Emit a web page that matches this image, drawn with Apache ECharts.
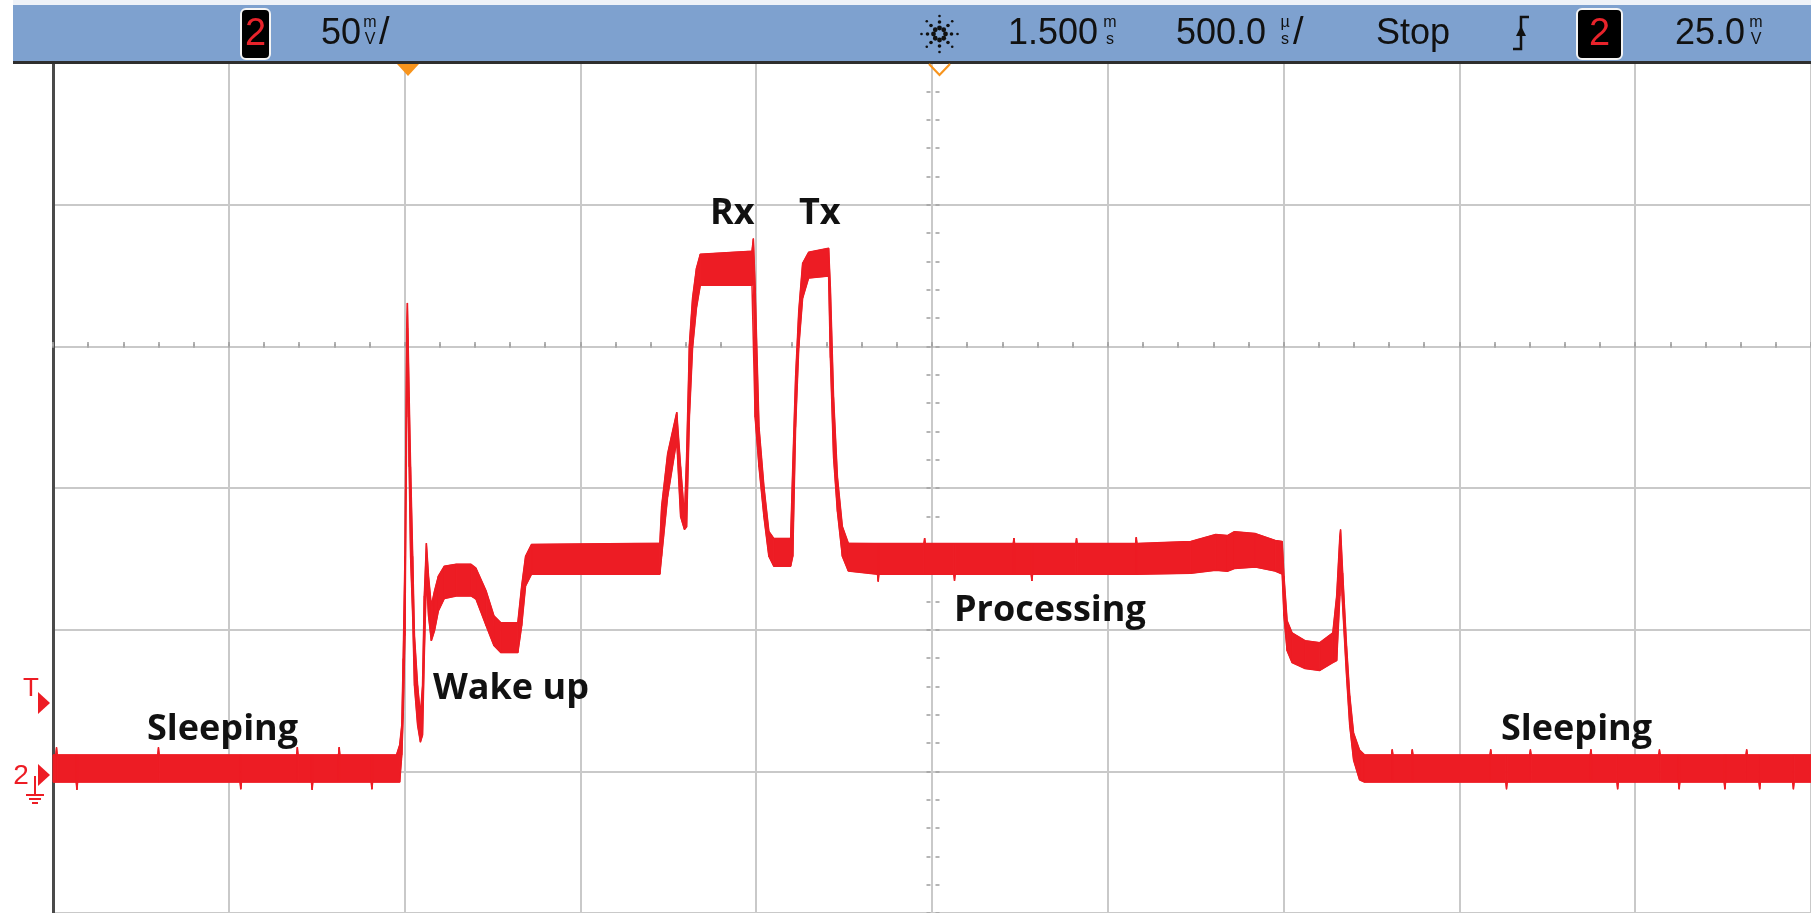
<!DOCTYPE html>
<html><head><meta charset="utf-8">
<script src="https://cdn.jsdelivr.net/npm/echarts@6/dist/echarts.min.js"></script>
<style>html,body{margin:0;padding:0;background:#fff;}#c{width:1811px;height:913px;}</style>
</head><body><div id="c"></div>
<script>
// ---- data read from the scope capture (time in ms, voltage in mV) ----
const timeMs = [
 -1.000,-0.992,-0.990,-0.988,-0.934,-0.932,-0.930,-0.702,-0.700,-0.698,
 -0.468,-0.466,-0.464,-0.307,-0.305,-0.303,-0.265,-0.263,-0.261,-0.188,
 -0.186,-0.184,-0.095,-0.093,-0.091,-0.023,-0.014,-0.008,-0.004,0.001,
 0.006,0.008,0.013,0.017,0.023,0.028,0.037,0.045,0.051,0.056,
 0.062,0.068,0.076,0.085,0.096,0.113,0.147,0.189,0.203,0.232,
 0.254,0.274,0.322,0.333,0.344,0.361,0.726,0.731,0.748,0.774,
 0.785,0.796,0.802,0.810,0.819,0.830,0.841,0.988,0.992,0.997,
 1.008,1.022,1.036,1.050,1.098,1.104,1.112,1.121,1.132,1.149,
 1.206,1.211,1.220,1.231,1.245,1.262,1.345,1.347,1.349,1.477,
 1.479,1.481,1.562,1.564,1.566,1.731,1.733,1.735,1.782,1.784,
 1.786,1.909,1.911,1.913,2.079,2.081,2.083,2.236,2.307,2.340,
 2.360,2.420,2.476,2.496,2.501,2.510,2.524,2.561,2.603,2.640,
 2.651,2.660,2.662,2.668,2.679,2.688,2.699,2.716,2.730,2.807,
 2.809,2.811,2.864,2.866,2.868,3.087,3.089,3.091,3.132,3.134,
 3.136,3.200,3.202,3.204,3.372,3.374,3.376,3.448,3.450,3.452,
 3.567,3.569,3.571,3.623,3.625,3.627,3.753,3.755,3.757,3.815,
 3.817,3.819,3.852,3.854,3.856,3.948,3.950,3.952,4.000
];
const upperMv = [
 5.8,5.8,8.5,5.8,5.8,5.8,5.8,5.8,8.5,5.8,
 5.8,5.8,5.8,5.8,8.5,5.8,5.8,5.8,5.8,5.8,
 8.5,5.8,5.8,5.8,5.8,5.8,9.3,16.3,39.8,75.9,
 156.5,165.3,132.0,107.5,75.9,47.9,30.3,19.8,30.3,61.9,
 80.5,68.9,58.4,63.6,68.9,72.4,73.1,73.1,71.7,63.6,
 54.9,52.4,52.4,65.4,75.9,80.1,80.5,93.4,112.0,126.7,
 107.5,89.9,110.9,150.6,167.0,177.5,182.5,183.6,188.0,170.6,
 121.4,100.4,84.7,82.2,82.2,107.5,139.0,162.3,179.3,183.2,
 184.6,170.6,132.0,103.9,86.4,80.5,80.4,80.4,80.4,80.4,
 82.3,80.4,80.4,80.4,80.4,80.4,82.3,80.4,80.4,80.4,
 80.4,80.4,82.3,80.4,80.4,82.6,80.4,81.1,83.6,83.2,
 84.6,83.9,81.5,81.1,68.9,53.1,48.9,46.1,45.4,48.9,
 61.9,82.9,85.3,70.0,44.3,26.8,13.5,7.5,5.8,5.8,
 7.7,5.8,5.8,7.7,5.8,5.8,7.7,5.8,5.8,5.8,
 5.8,5.8,7.7,5.8,5.8,7.7,5.8,5.8,5.8,5.8,
 5.8,7.7,5.8,5.8,5.8,5.8,5.8,5.8,5.8,5.8,
 7.7,5.8,5.8,5.8,5.8,5.8,5.8,5.8,5.8
];
const lowerMv = [
 -3.8,-3.8,-3.8,-3.8,-3.8,-6.5,-3.8,-3.8,-3.8,-3.8,
 -3.8,-6.3,-3.8,-3.8,-3.8,-3.8,-3.8,-6.5,-3.8,-3.8,
 -3.8,-3.8,-3.8,-6.3,-3.8,-3.8,-3.8,5.8,19.8,47.9,
 125.0,156.5,107.5,75.9,54.9,30.3,16.3,10.3,12.8,40.9,
 68.9,54.9,46.1,49.6,56.6,61.0,61.9,61.9,60.8,51.4,
 44.4,41.9,41.9,51.4,65.4,69.6,69.6,75.9,96.9,116.9,
 89.9,85.3,86.3,125.0,149.5,163.5,171.6,171.6,171.6,125.0,
 107.5,89.9,75.9,72.4,72.4,75.9,121.4,149.5,167.0,174.1,
 174.8,146.0,111.0,91.7,75.9,70.7,69.6,67.0,69.6,69.6,
 69.6,69.6,69.6,67.2,69.6,69.6,69.6,69.6,69.6,67.2,
 69.6,69.6,69.6,69.6,69.6,69.6,69.6,69.9,71.0,70.6,
 71.6,72.1,70.7,69.6,54.9,42.6,38.4,36.3,35.6,38.4,
 39.1,61.9,72.4,58.4,33.8,16.3,4.0,-3.0,-3.8,-3.8,
 -3.8,-3.8,-3.8,-3.8,-3.8,-3.8,-3.8,-3.8,-3.8,-6.3,
 -3.8,-3.8,-3.8,-3.8,-3.8,-3.8,-3.8,-3.8,-6.3,-3.8,
 -3.8,-3.8,-3.8,-3.8,-6.3,-3.8,-3.8,-6.3,-3.8,-3.8,
 -3.8,-3.8,-3.8,-6.3,-3.8,-3.8,-6.3,-3.8,-3.8
];
const phaseLabels = ['Sleeping','Wake up','Rx','Tx','Processing','Sleeping'];
const readouts = { chan:'2', vScale:'50', delay:'1.500', tScale:'500.0', run:'Stop', trigLevel:'25.0' };
const xRange = { min:-1, max:4, major:0.5, minor:0.1 };
const yRange = { min:-50, max:250, major:50, minor:10 };

// ---- layout / style ----
const RED = '#ED1C24';
const GRID = { left:53, top:63, width:1771, height:855.6 };
const CX = 939.5, CY = 347.7; // centre crosshair (1.5 ms, 150 mV)
const labelPos = [[147,730],[433,689],[710,214],[799,214],[954,611],[1501,730]];

const chart = echarts.init(document.getElementById('c'), null, {renderer:'canvas'});

const hidden = {show:false};
const tickAxisX = (pos, off) => ({
  type:'value', gridIndex:1, position:pos, offset:off,
  min:xRange.min, max:xRange.max, interval:xRange.minor,
  axisLine:{show:false, onZero:false}, axisLabel:hidden, splitLine:hidden,
  axisTick:{show:true, inside:false, length:4, lineStyle:{color:'#a3a3a3', width:1.6}}
});
const tickAxisY = (pos, off) => ({
  type:'value', gridIndex:1, position:pos, offset:off,
  min:yRange.min, max:yRange.max, interval:yRange.minor,
  axisLine:{show:false, onZero:false}, axisLabel:hidden, splitLine:hidden,
  axisTick:{show:true, inside:false, length:4, lineStyle:{color:'#a3a3a3', width:1.6}}
});

const gRight = GRID.left + GRID.width, gBottom = GRID.top + GRID.height;

const graphics = [];
// top status bar
graphics.push({type:'rect', shape:{x:13,y:0,width:1798,height:6}, style:{fill:'#eef2f8'}, z:10});
graphics.push({type:'rect', shape:{x:13,y:5,width:1798,height:57}, style:{fill:'#7EA1CF'}, z:10});
graphics.push({type:'rect', shape:{x:13,y:61,width:1798,height:3}, style:{fill:'#2e2e2e'}, z:10});

const T = (text, x, y, size, extra) => Object.assign({type:'text', z:20,
  style:Object.assign({text, x, y, fontSize:size, fontFamily:'Liberation Sans', fill:'#111',
  align:'left', verticalAlign:'middle'}, extra || {})});

function chanBox(x, w) {
  graphics.push({type:'rect', z:20, shape:{x:x, y:9, width:w, height:50, r:5},
    style:{fill:'#000', stroke:'#f4f4f4', lineWidth:2}});
  graphics.push(T(readouts.chan, x + w/2, 35, 38, {align:'center', fill:'#E8232B'}));
}
function unit(top, bottom, x) {
  graphics.push(T(top, x, 23, 16, {align:'center'}));
  graphics.push(T(bottom, x, 40, 16, {align:'center'}));
}
chanBox(241, 29);
graphics.push(T(readouts.vScale, 321, 34, 36));
unit('m','V',370);
graphics.push(T('/', 379, 34, 38));
// starburst logo
for (let k = 0; k < 8; k++) {
  const a = k * Math.PI / 4;
  [[6,2.4],[12,1.8],[18,1.3]].forEach(([r, s]) => {
    graphics.push({type:'circle', z:20, shape:{cx:CX + r*Math.cos(a), cy:34 + r*Math.sin(a), r:s}, style:{fill:'#111'}});
  });
}
graphics.push(T(readouts.delay, 1008, 34, 36));
unit('m','s',1110);
graphics.push(T(readouts.tScale, 1176, 34, 36));
unit('µ','s',1285);
graphics.push(T('/', 1293, 34, 38));
graphics.push(T(readouts.run, 1376, 34, 36));
// trigger edge icon
graphics.push({type:'polyline', z:20, shape:{points:[[1513,49],[1521,49],[1521,17],[1529,17]]}, style:{stroke:'#111', lineWidth:2.5, fill:null}});
graphics.push({type:'polygon', z:20, shape:{points:[[1516,36],[1521,26],[1526,36]]}, style:{fill:'#111'}});
chanBox(1577, 45);
graphics.push(T(readouts.trigLevel, 1675, 34, 36));
unit('m','V',1756);

// orange markers under the bar
graphics.push({type:'polygon', z:15, shape:{points:[[397,64],[419,64],[408,76]]}, style:{fill:'#F7941D'}});
graphics.push({type:'polyline', z:15, shape:{points:[[929,64],[939.5,75],[950,64]]}, style:{stroke:'#F7941D', lineWidth:2.2, fill:null}});

// left markers (trigger level, channel ground)
graphics.push(T('T', 31, 689, 26, {align:'center', fill:RED}));
graphics.push({type:'polygon', z:15, shape:{points:[[38,692],[50,703],[38,714]]}, style:{fill:RED}});
graphics.push(T('2', 21, 776, 28, {align:'center', fill:RED}));
graphics.push({type:'polygon', z:15, shape:{points:[[38,764],[50,775],[38,786]]}, style:{fill:RED}});
graphics.push({type:'polyline', z:15, shape:{points:[[35,776],[35,795]]}, style:{stroke:RED, lineWidth:2}});
[[26,44,795],[29,41,799],[32,38,803]].forEach(([a,b,y]) =>
  graphics.push({type:'line', z:15, shape:{x1:a,y1:y,x2:b,y2:y}, style:{stroke:RED, lineWidth:2}}));

// phase annotations
phaseLabels.forEach((s, i) => {
  graphics.push({type:'text', z:30, style:{text:s, x:labelPos[i][0], y:labelPos[i][1],
    fontSize:36, fontWeight:'bold', fontFamily:'Open Sans', fill:'#111', align:'left', verticalAlign:'middle'}});
});

const bandData = timeMs.map((t, i) => [t, upperMv[i], lowerMv[i]]);

const option = {
  animation:false,
  backgroundColor:'#ffffff',
  grid:[Object.assign({}, GRID), Object.assign({}, GRID)],
  xAxis:[
    { type:'value', gridIndex:0, min:xRange.min, max:xRange.max, interval:xRange.major,
      axisLine:{show:false, onZero:false}, axisTick:hidden, axisLabel:hidden,
      splitLine:{show:true, lineStyle:{color:'#c9c9c9', width:2}} },
    tickAxisX('top', GRID.top - CY),
    tickAxisX('bottom', CY - gBottom)
  ],
  yAxis:[
    { type:'value', gridIndex:0, min:yRange.min, max:yRange.max, interval:yRange.major,
      axisLine:{show:true, onZero:false, lineStyle:{color:'#4a4a4a', width:3}},
      axisTick:hidden, axisLabel:hidden,
      splitLine:{show:true, lineStyle:{color:'#c9c9c9', width:2}} },
    tickAxisY('left', GRID.left - CX),
    tickAxisY('right', CX - gRight)
  ],
  series:[
    { name:'envelope', type:'custom', coordinateSystem:'cartesian2d', xAxisIndex:0, yAxisIndex:0,
      data: bandData, encode:{x:0, y:[1,2]}, silent:true, z:5,
      renderItem: function (params, api) {
        const i = params.dataIndex;
        if (i >= bandData.length - 1) return null;
        const p = bandData[i], q = bandData[i + 1];
        const pts = [api.coord([p[0], p[1]]), api.coord([q[0], q[1]]),
                     api.coord([q[0], q[2]]), api.coord([p[0], p[2]])];
        return {type:'polygon', shape:{points:pts}, style:{fill:RED, stroke:RED, lineWidth:1}};
      } },
    { name:'upper', type:'line', xAxisIndex:0, yAxisIndex:0, data: timeMs.map((t,i) => [t, upperMv[i]]),
      symbol:'none', silent:true, lineStyle:{color:RED, width:1.5}, z:6 },
    { name:'lower', type:'line', xAxisIndex:0, yAxisIndex:0, data: timeMs.map((t,i) => [t, lowerMv[i]]),
      symbol:'none', silent:true, lineStyle:{color:RED, width:1.5}, z:6 }
  ],
  graphic: graphics
};
chart.setOption(option);
</script></body></html>
